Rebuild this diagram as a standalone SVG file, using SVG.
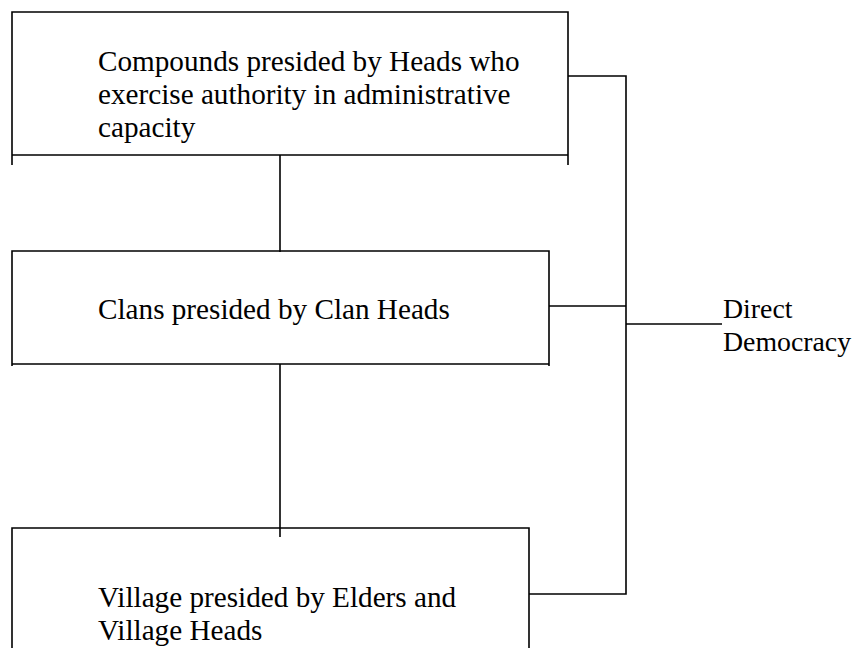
<svg xmlns="http://www.w3.org/2000/svg" width="858" height="648" viewBox="0 0 858 648">
  <style>
    .frame { fill: none; stroke: #000; stroke-width: 1.6; }
    .link { fill: none; stroke: #000; stroke-width: 1.6; }
    .label { font-family: "Liberation Serif", "Times New Roman", serif; font-size: 29.2px; fill: #000; }
    .side { font-size: 27.8px; }
  </style>
  <rect width="858" height="648" fill="#fff"/>

  <!-- Compounds level -->
  <g id="compounds">
    <path class="frame" d="M12,165 V12 H568 V165 M12,155 H568"/>
    <text class="label" x="98" y="71">Compounds presided by Heads who</text>
    <text class="label" x="98" y="104">exercise authority in administrative</text>
    <text class="label" x="98" y="137">capacity</text>
  </g>

  <!-- Clans level -->
  <g id="clans">
    <path class="frame" d="M12,366 V251 H549 V366 M12,364 H549"/>
    <text class="label" x="98" y="319">Clans presided by Clan Heads</text>
  </g>

  <!-- Village level (box runs off the bottom edge) -->
  <g id="village">
    <path class="frame" d="M12,648 V528 H529 V648"/>
    <text class="label" x="98" y="607">Village presided by Elders and</text>
    <text class="label" x="98" y="640">Village Heads</text>
  </g>

  <!-- Direct Democracy label -->
  <g id="direct-democracy">
    <text class="label side" x="723" y="318">Direct</text>
    <text class="label side" x="723" y="351">Democracy</text>
  </g>

  <!-- Connectors -->
  <g id="connectors">
    <path class="link" d="M280,155 V252"/>
    <path class="link" d="M280,364 V537"/>
    <path class="link" d="M568,76 H626 V594 H529"/>
    <path class="link" d="M549,306 H626"/>
    <path class="link" d="M626,324 H722"/>
  </g>
</svg>
